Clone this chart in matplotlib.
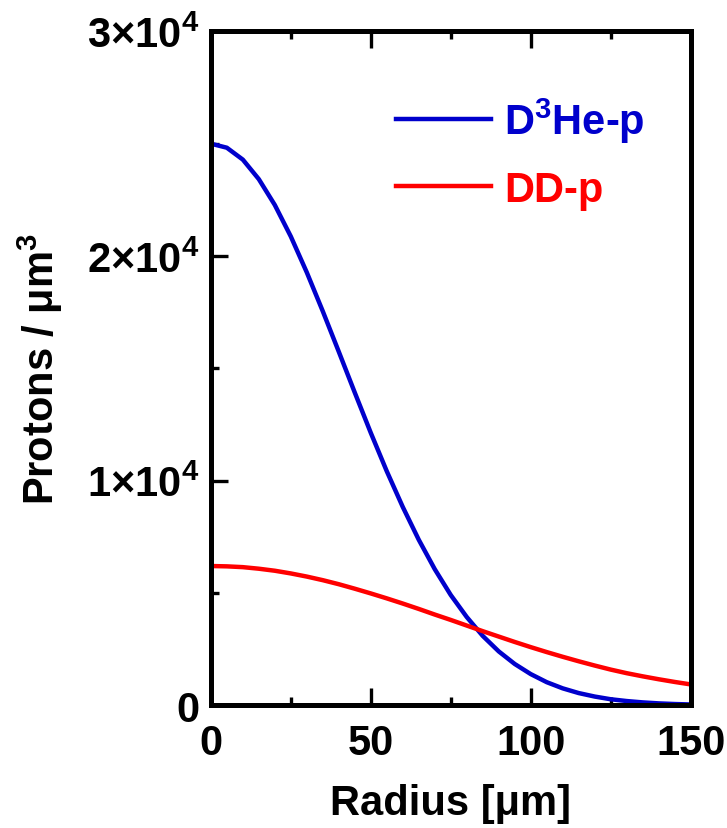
import matplotlib
matplotlib.use("Agg")
import matplotlib.pyplot as plt
from matplotlib.ticker import MultipleLocator, FuncFormatter

plt.rcParams["font.family"] = ["Liberation Sans", "DejaVu Sans"]
plt.rcParams["font.weight"] = "bold"
plt.rcParams["mathtext.fontset"] = "custom"
plt.rcParams["mathtext.rm"] = "Liberation Sans:bold"
plt.rcParams["mathtext.bf"] = "Liberation Sans:bold"
plt.rcParams["mathtext.it"] = "Liberation Sans:bold"

# ------------------------------------------------------------------ data -----
radius = [0, 5, 10, 15, 20, 25, 30, 35, 40, 45, 50, 55, 60, 65, 70, 75,
          80, 85, 90, 95, 100, 105, 110, 115, 120, 125, 130, 135, 140, 145, 150]
d3he_p = [25000, 24820, 24290, 23420, 22270, 20870, 19270, 17540, 15740,
          13920, 12130, 10420, 8830, 7370, 6060, 4910, 3930, 3090, 2400,
          1840, 1390, 1030, 755, 545, 390, 270, 190, 130, 86, 57, 37]
dd_p = [6200, 6185, 6150, 6080, 5990, 5870, 5730, 5570, 5390, 5190, 4980,
        4760, 4530, 4290, 4040, 3800, 3550, 3300, 3060, 2820, 2590, 2370,
        2160, 1960, 1770, 1590, 1430, 1290, 1160, 1040, 930]

C_BLUE = "#0000CC"
C_RED = "#FF0000"

fig = plt.figure(figsize=(7.27, 8.29), dpi=100)
ax = fig.add_axes([0.290, 0.148, 0.660, 0.813])

ax.plot(radius, d3he_p, color=C_BLUE, lw=3.2, label=r"D$^{3}$He-p")
ax.plot(radius, dd_p, color=C_RED, lw=3.2, label="DD-p")

ax.set_xlim(0, 150)
ax.set_ylim(0, 30000)
ax.xaxis.set_major_locator(MultipleLocator(50))
ax.xaxis.set_minor_locator(MultipleLocator(25))
ax.yaxis.set_major_locator(MultipleLocator(10000))
ax.yaxis.set_minor_locator(MultipleLocator(5000))


def yfmt(v, pos):
    if v == 0:
        return "0"
    return r"$%d{\times}10^{4}$" % round(v / 1e4)


ax.yaxis.set_major_formatter(FuncFormatter(yfmt))

for sp in ax.spines.values():
    sp.set_linewidth(3.6)
ax.tick_params(which="both", direction="in", top=True, right=False,
               width=2.4, labelsize=30)
ax.tick_params(which="major", length=12)
ax.tick_params(which="minor", length=6)
ax.tick_params(axis="x", pad=13)
ax.tick_params(axis="y", pad=8)

ax.set_xlabel("Radius [μm]", fontsize=30, fontweight="bold", labelpad=14)
ax.set_ylabel(r"Protons / μm$^{3}$", fontsize=30, fontweight="bold", labelpad=16)

leg = ax.legend(loc="upper left", bbox_to_anchor=(0.385, 0.905), frameon=False,
                fontsize=30, handlelength=2.3, handletextpad=0.3,
                labelspacing=0.6, borderpad=0, borderaxespad=0)
for txt, c in zip(leg.get_texts(), [C_BLUE, C_RED]):
    txt.set_color(c)

fig.savefig("out.png", dpi=100)
